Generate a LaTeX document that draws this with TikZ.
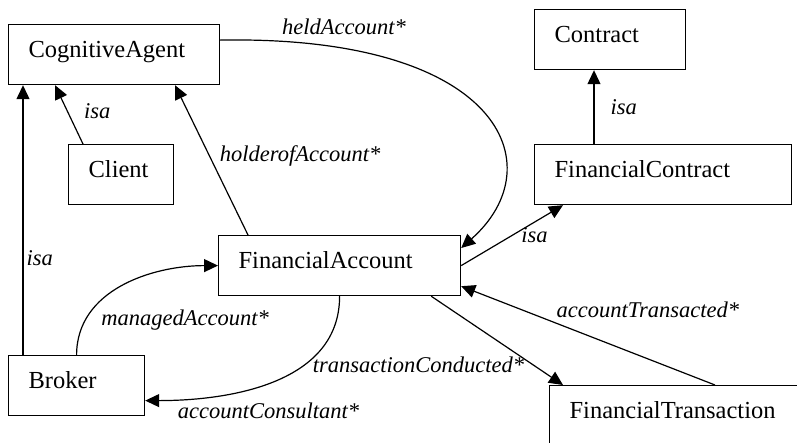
\documentclass[tikz,border=0pt]{standalone}
\usepackage{fontspec}
\setmainfont{Liberation Serif}
\usetikzlibrary{positioning,arrows.meta}

\begin{document}
\begin{tikzpicture}[
    x=1pt, y=-1pt,
    line width=1.2pt,
    every node/.style={font=\fontsize{24.5}{29}\selectfont},
    C/.style={draw,anchor=north west,align=left,inner xsep=20pt,inner ysep=0pt,
      text height=16pt,text depth=10pt,minimum height=60pt},
    elbl/.style={font=\fontsize{22.5}{27}\selectfont\itshape,inner sep=2pt},
    >={Triangle[length=14pt,width=13pt]},
  ]
  \useasboundingbox (0,0) rectangle (797,442);
  \clip (0,0) rectangle (797,442);

  \node[C,text width=171pt] (ag) at (8,24) {CognitiveAgent};
  \node[C,text width=65pt] (cl) at (68,144) {Client};
  \node[C,text width=111pt] (ct) at (534,9) {Contract};
  \node[C,text width=217pt] (fc) at (534,144) {FinancialContract};
  \node[C,text width=202pt] (fa) at (218,235) {FinancialAccount};
  \node[C,text width=96pt] (br) at (8,355) {Broker};
  \node[C,text width=210pt] (ft) at (549,385) {FinancialTransaction};

  % isa links
  \draw[->] ([xshift=15pt]br.north west) -- ([xshift=15pt]ag.south west) node[elbl,pos=0.36,right=1pt]{isa};
  \draw[->] ([xshift=15pt]cl.north west) -- ([xshift=47pt]ag.south west) node[elbl,pos=0.55,right=14pt]{isa};
  \draw[->] (fa.east) -- ([xshift=29pt]fc.south west) node[elbl,pos=0.72,below=3pt]{isa};
  \draw[->] ([xshift=60pt]fc.north west) -- ([xshift=60pt]ct.south west) node[elbl,midway,right=14pt]{isa};

  % account relations
  \draw[->] ([xshift=30pt]fa.north west) -- ([xshift=167pt]ag.south west) node[elbl,pos=0.53,right=8pt]{holderofAccount*};
  \draw[->] ([yshift=14.5pt]ag.east) .. controls (500,35) and (555,165) .. ([yshift=-13pt]fa.north east)
    node[elbl] at (344,27) {heldAccount*};
  \draw[->] (br.north) to[out=90,in=180] node[elbl,pos=0.3,anchor=north west,xshift=4pt]{managedAccount*} (fa.west);
  \draw[->] (fa.south) to[out=-90,in=0] node[elbl,pos=1,anchor=north west,xshift=30pt]{accountConsultant*} ([yshift=-15pt]br.east);
  \draw[->] ([xshift=-30pt]fa.south east) -- ([xshift=14pt]ft.north west) node[elbl,pos=0.77,left=6pt]{transactionConducted*};
  \draw[->] ([xshift=166pt]ft.north west) -- ([yshift=10pt]fa.south east) node[elbl,pos=0.64,above right=2pt]{accountTransacted*};
\end{tikzpicture}
\end{document}
